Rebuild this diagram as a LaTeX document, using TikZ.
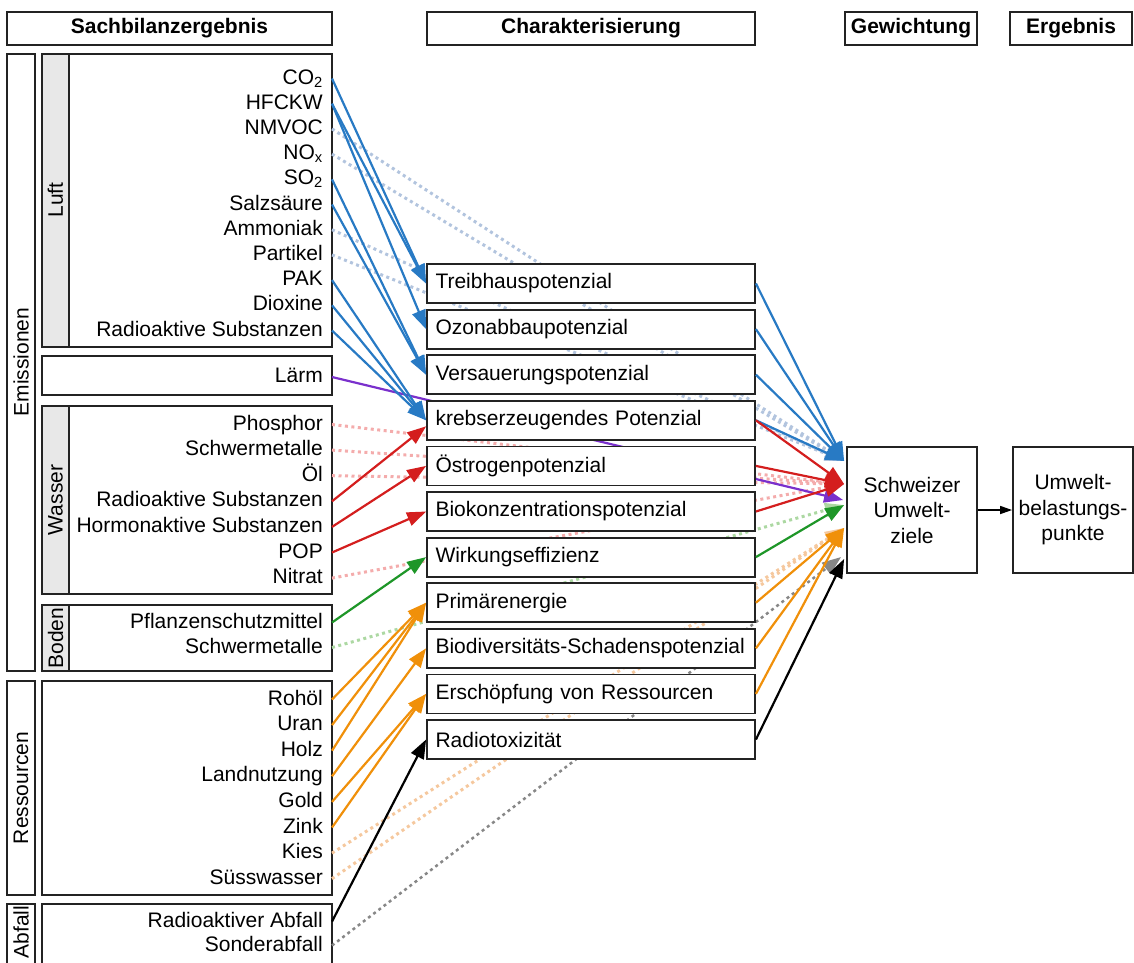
\documentclass[tikz,border=0pt]{standalone}
\usepackage{fontspec}
\setmainfont{Liberation Sans}
\usetikzlibrary{arrows.meta,positioning}

\definecolor{luftblau}{RGB}{40,122,196}
\definecolor{luftblass}{RGB}{178,196,222}
\definecolor{wasserrot}{RGB}{212,30,30}
\definecolor{wasserblass}{RGB}{244,172,172}
\definecolor{laermlila}{RGB}{122,48,204}
\definecolor{bodengruen}{RGB}{30,150,40}
\definecolor{bodenblass}{RGB}{172,216,162}
\definecolor{resorange}{RGB}{240,144,10}
\definecolor{resblass}{RGB}{245,200,158}
\definecolor{abfallgrau}{RGB}{135,135,135}
\definecolor{strich}{RGB}{35,35,35}
\definecolor{streifen}{RGB}{232,232,232}

\newcommand{\grossschrift}{\fontsize{21}{25.5}\selectfont}

\tikzset{
  rahmen/.style={draw=strich, line width=1.8pt},
  kopf/.style={rahmen, font=\grossschrift\bfseries, minimum height=33pt, inner sep=0pt},
  posten/.style={anchor=east, inner xsep=9pt, inner ysep=0pt, text height=15pt, text depth=4pt},
  wirkbox/.style={rahmen, fill=white, minimum width=328pt, minimum height=39pt,
    text width=311pt, align=left, inner xsep=8.5pt, inner ysep=0pt},
  zielbox/.style={rahmen, fill=white, align=center, minimum width=130pt, minimum height=126pt, inner sep=0pt},
  fluss/.style={line width=2.2pt, -{Triangle[length=19pt,width=14pt]}},
  direkt/.style={line width=3pt, dash pattern=on 3pt off 3.5pt, -{Triangle[length=19pt,width=14pt]}},
}

\begin{document}
\begin{tikzpicture}[x=1pt,y=-1pt,font=\grossschrift]
\useasboundingbox (0,0) rectangle (1134,962);

% Kopfzeile
\node[kopf, minimum width=325pt] (sachkopf) at (169.5,28.5) {Sachbilanzergebnis};
\node[kopf, minimum width=328pt] (charkopf) at (591,28.5) {Charakterisierung};
\node[kopf, minimum width=132pt] (gewkopf) at (911,28.5) {Gewichtung};
\node[kopf, minimum width=122pt] (ergkopf) at (1071,28.5) {Ergebnis};

% Gruppen links
\draw[rahmen] (7,54) rectangle (35,671);
\draw[rahmen] (7,681) rectangle (35,895);
\draw[rahmen] (7,904) rectangle (35,975);
\foreach \oben/\unten in {54/347,406/594,605/671} {
  \draw[rahmen] (42,\oben) rectangle (332,\unten);
  \draw[rahmen,fill=streifen] (42,\oben) rectangle (69,\unten);
}
\foreach \oben/\unten in {356/395,681/895,904/975}
  \draw[rahmen] (42,\oben) rectangle (332,\unten);

\node[rotate=90] (emission) at (21,362) {Emissionen};
\node[rotate=90] (ressourcen) at (21,788) {Ressourcen};
\node[rotate=90] (abfall) at (21,932) {Abfall};
\node[rotate=90] (luft) at (55.5,200) {Luft};
\node[rotate=90] (wasser) at (55.5,500) {Wasser};
\node[rotate=90] (boden) at (55.5,638) {Boden};

% Sachbilanz-Posten
\foreach \name/\txt [count=\i from 0] in {co2/CO\textsubscript{2}, hfckw/HFCKW, nmvoc/NMVOC,
    nox/NO\textsubscript{x}, so2/SO\textsubscript{2}, hcl/Salzsäure, nh3/Ammoniak,
    partikel/Partikel, pak/PAK, dioxin/Dioxine, radluft/Radioaktive Substanzen}
  \node[posten] (\name) at (332,78.5+25.2*\i) {\txt};
\node[posten] (laerm) at (332,377) {Lärm};
\foreach \name/\txt [count=\i from 0] in {phosphor/Phosphor, smwasser/Schwermetalle, oel/Öl,
    radwasser/Radioaktive Substanzen, hormon/Hormonaktive Substanzen, pop/POP, nitrat/Nitrat}
  \node[posten] (\name) at (332,424.5+25.6*\i) {\txt};
\node[posten] (pflanzen) at (332,622.5) {Pflanzenschutzmittel};
\node[posten] (smboden) at (332,647.5) {Schwermetalle};
\foreach \name/\txt [count=\i from 0] in {rohoel/Rohöl, uran/Uran, holz/Holz, land/Landnutzung,
    gold/Gold, zink/Zink, kies/Kies, suess/Süsswasser}
  \node[posten] (\name) at (332,699.5+25.6*\i) {\txt};
\node[posten] (radabfall) at (332,921.5) {Radioaktiver Abfall};
\node[posten] (sonder) at (332,945.5) {Sonderabfall};

% Gewichtung und Ergebnis
\node[zielbox] (ziel) at (912,510) {Schweizer\\Umwelt-\\ziele};
\node[zielbox, minimum width=120pt] (ubp) at (1073,510) {Umwelt-\\belastungs-\\punkte};
\draw[line width=1.5pt, -{Triangle[length=12pt,width=8pt]}] (ziel) -- (ubp);

\coordinate (inblau) at ([xshift=-2pt,yshift=49pt]ziel.west);
\coordinate (inrot) at ([xshift=-2pt,yshift=26pt]ziel.west);
\coordinate (inlila) at ([xshift=-3pt,yshift=10pt]ziel.west);
\coordinate (ingruen) at ([xshift=-2pt,yshift=5pt]ziel.west);
\coordinate (inorange) at ([xshift=-2pt,yshift=-18pt]ziel.west);
\coordinate (ingrau) at ([xshift=-5pt,yshift=-47pt]ziel.west);
\coordinate (inschwarz) at ([xshift=-2pt,yshift=-49pt]ziel.west);

% direkt gewichtete Posten (hinter den Kaesten)
\foreach \q in {nmvoc,nox,nh3,partikel}
  \draw[direkt,luftblass] (\q.east) -- (inblau);
\foreach \q in {phosphor,smwasser,oel,nitrat}
  \draw[direkt,wasserblass] (\q.east) -- (inrot);
\draw[direkt,bodenblass] (smboden.east) -- (ingruen);
\foreach \q in {kies,suess}
  \draw[direkt,resblass] (\q.east) -- (inorange);
\draw[direkt,abfallgrau,line width=2.5pt] (sonder.east) -- (ingrau);
\draw[fluss,laermlila] (laerm.east) -- (inlila);

% Charakterisierung
\foreach \name/\txt [count=\i from 0] in {thp/Treibhauspotenzial, ozon/Ozonabbaupotenzial,
    versauer/Versauerungspotenzial, krebs/krebserzeugendes Potenzial, oestro/Östrogenpotenzial,
    biokonz/Biokonzentrationspotenzial, effizienz/Wirkungseffizienz, primaer/Primärenergie,
    biodiv/Biodiversitäts-Schadenspotenzial, erschoepf/Erschöpfung von Ressourcen,
    radiotox/Radiotoxizität}
  \node[wirkbox] (\name) at (591,283.5+45.6*\i) {\txt};

% Posten -> Wirkungskategorien
\foreach \q/\z in {co2/thp, hfckw/thp, hfckw/ozon, so2/versauer, hcl/versauer,
    pak/krebs, dioxin/krebs, radluft/krebs}
  \draw[fluss,luftblau] (\q.east) -- (\z.west);
\draw[fluss,wasserrot] (radwasser.east) -- ([yshift=-6pt]krebs.west);
\draw[fluss,wasserrot] (hormon.east) -- (oestro.west);
\draw[fluss,wasserrot] (pop.east) -- (biokonz.west);
\draw[fluss,bodengruen] (pflanzen.east) -- (effizienz.west);
\foreach \q/\z in {rohoel/primaer, uran/primaer, holz/primaer, land/biodiv,
    gold/erschoepf, zink/erschoepf}
  \draw[fluss,resorange] (\q.east) -- (\z.west);
\draw[fluss,black] (radabfall.east) -- (radiotox.west);

% Wirkungskategorien -> Gewichtung
\foreach \q in {thp,ozon,versauer,krebs}
  \draw[fluss,luftblau] (\q.east) -- (inblau);
\foreach \q in {krebs,oestro,biokonz}
  \draw[fluss,wasserrot] (\q.east) -- (inrot);
\draw[fluss,bodengruen] (effizienz.east) -- (ingruen);
\foreach \q in {primaer,biodiv,erschoepf}
  \draw[fluss,resorange] (\q.east) -- (inorange);
\draw[fluss,black] (radiotox.east) -- (inschwarz);

\end{tikzpicture}
\end{document}
